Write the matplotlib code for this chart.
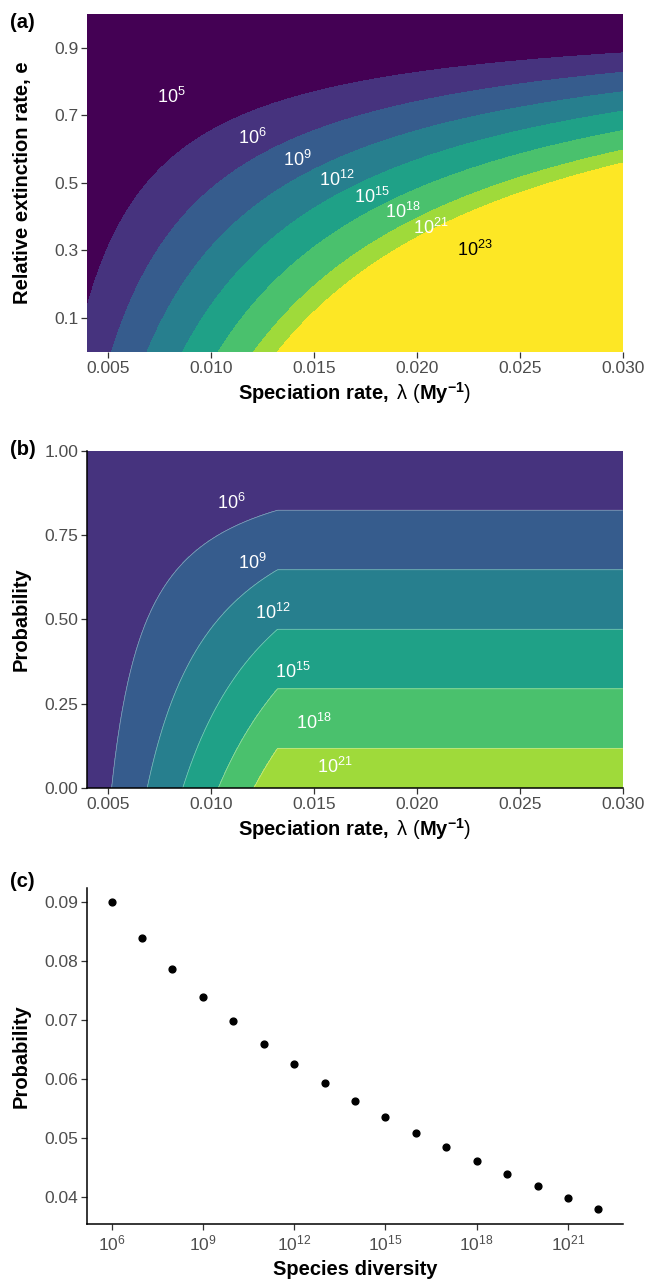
import numpy as np
import matplotlib.pyplot as plt
from matplotlib.ticker import NullLocator, FormatStrFormatter

plt.rcParams['font.family'] = ['Liberation Sans', 'DejaVu Sans']
plt.rcParams['mathtext.fontset'] = 'custom'
plt.rcParams['mathtext.rm'] = 'Liberation Sans'
plt.rcParams['mathtext.bf'] = 'Liberation Sans:bold'
plt.rcParams['mathtext.it'] = 'Liberation Sans:italic'

# --- model parameters ---
T_MY = 4000            # time span (My): log10 N = lambda * (1 - e) * T / ln10
K_MIN, K_CAP = 6, 23   # log10 diversity floor and cap used in panel (b)

# panel (a): contour breaks (log10 diversity), colours and labels
levels_a = [6, 9, 12, 15, 18, 21, 23]
colors_a = ['#440154', '#46337E', '#365C8D', '#277F8E',
            '#1FA187', '#4AC16D', '#9FDA3A', '#FDE725']
labels_a = ['5', '6', '9', '12', '15', '18', '21', '23']
label_lam_a = [0.0081, 0.0120, 0.0142, 0.0161, 0.0178, 0.0193, 0.0207, 0.0228]
label_e_a = [0.755, 0.634, 0.569, 0.509, 0.459, 0.413, 0.366, 0.301]

# panel (b)
levels_b = [9, 12, 15, 18, 21]
colors_b = colors_a[1:7]
labels_b = ['6', '9', '12', '15', '18', '21']
label_lam_b = [0.0110, 0.0120, 0.0130, 0.0140, 0.0150, 0.0160]
label_p_b = [0.845, 0.667, 0.518, 0.343, 0.192, 0.061]

# panel (c)
diversity_exp = [6, 7, 8, 9, 10, 11, 12, 13, 14, 15, 16, 17, 18, 19, 20, 21, 22]
prob_c = [0.0900, 0.0839, 0.0787, 0.0740, 0.0698, 0.0660, 0.0625, 0.0593, 0.0563,
          0.0535, 0.0509, 0.0484, 0.0461, 0.0439, 0.0418, 0.0398, 0.0379]

lam_ticks = [0.005, 0.010, 0.015, 0.020, 0.025, 0.030]
xlab = r'$\mathbf{Speciation\ rate,}\ \mathrm{\lambda}\ \mathrm{(}\mathbf{My}^{\mathbf{-1}}\mathrm{)}$'

W, H = 646, 1283
fig = plt.figure(figsize=(W / 100, H / 100), dpi=100)


def ax_rect(x0, y0, x1, y1):
    return [x0 / W, 1 - y1 / H, (x1 - x0) / W, (y1 - y0) / H]


def style(ax):
    ax.tick_params(length=4.5, width=0.9, color='#333333', labelcolor='#4D4D4D',
                   labelsize=12.5, pad=2)
    for s in ['top', 'right']:
        ax.spines[s].set_visible(False)
    for s in ['left', 'bottom']:
        ax.spines[s].set_linewidth(1.1)


ln10 = np.log(10)
lam = np.linspace(0.004, 0.030, 700)

# ---------- (a) ----------
ax = fig.add_axes(ax_rect(87.3, 14, 622.7, 351.7))
e = np.linspace(0, 1, 600)
L, E = np.meshgrid(lam, e)
Ka = L * (1 - E) * T_MY / ln10
ax.contourf(L, E, Ka, levels=[-100] + levels_a + [100], colors=colors_a)
for lab, x, y in zip(labels_a, label_lam_a, label_e_a):
    ax.text(x, y, r'$10^{%s}$' % lab, ha='center', va='center', fontsize=13,
            color='black' if lab == '23' else 'white')
ax.set_xlim(0.004, 0.030)
ax.set_ylim(0, 1)
ax.set_xticks(lam_ticks)
ax.xaxis.set_major_formatter(FormatStrFormatter('%.3f'))
ax.set_yticks([0.1, 0.3, 0.5, 0.7, 0.9])
style(ax)
for s in ['left', 'bottom']:
    ax.spines[s].set_visible(False)
ax.set_xlabel(xlab, fontsize=14.5, labelpad=3)
ax.set_ylabel('Relative extinction rate, e', fontsize=14.5, fontweight='bold')
ax.yaxis.set_label_coords(-0.103, 0.5)

# ---------- (b) ----------
ax = fig.add_axes(ax_rect(87.3, 450.7, 622.7, 788))
p = np.linspace(0, 1, 600)
L, P = np.meshgrid(lam, p)
Kb = K_MIN + (np.minimum(L * T_MY / ln10, K_CAP) - K_MIN) * (1 - P)
ax.contourf(L, P, Kb, levels=[-100] + levels_b + [100], colors=colors_b)
ax.contour(L, P, Kb, levels=levels_b, colors='white', linewidths=0.5, alpha=0.45)
for lab, x, y in zip(labels_b, label_lam_b, label_p_b):
    ax.text(x, y, r'$10^{%s}$' % lab, ha='center', va='center', fontsize=13, color='white')
ax.set_xlim(0.004, 0.030)
ax.set_ylim(0, 1)
ax.set_xticks(lam_ticks)
ax.xaxis.set_major_formatter(FormatStrFormatter('%.3f'))
ax.set_yticks([0, 0.25, 0.5, 0.75, 1.0])
ax.yaxis.set_major_formatter(FormatStrFormatter('%.2f'))
style(ax)
ax.set_xlabel(xlab, fontsize=14.5, labelpad=3)
ax.set_ylabel('Probability', fontsize=14.5, fontweight='bold')
ax.yaxis.set_label_coords(-0.105, 0.5)

# ---------- (c) ----------
ax = fig.add_axes(ax_rect(87.3, 888.3, 622.7, 1224.3))
ax.scatter([10.0 ** k for k in diversity_exp], prob_c, s=24, color='black', zorder=3)
ax.set_xscale('log')
ax.set_xlim(10 ** 5.2, 10 ** 22.8)
ax.set_xticks([10.0 ** k for k in [6, 9, 12, 15, 18, 21]])
ax.xaxis.set_minor_locator(NullLocator())
ax.set_ylim(0.0353, 0.0924)
ax.set_yticks([0.04, 0.05, 0.06, 0.07, 0.08, 0.09])
ax.yaxis.set_major_formatter(FormatStrFormatter('%.2f'))
style(ax)
ax.set_xlabel('Species diversity', fontsize=14.5, fontweight='bold', labelpad=5)
ax.set_ylabel('Probability', fontsize=14.5, fontweight='bold')
ax.yaxis.set_label_coords(-0.105, 0.5)

for txt, y in [('(a)', 13), ('(b)', 440), ('(c)', 872)]:
    fig.text(10 / W, 1 - y / H, txt, ha='left', va='top', fontsize=14.5, fontweight='bold')

fig.savefig('out.png', dpi=100)
